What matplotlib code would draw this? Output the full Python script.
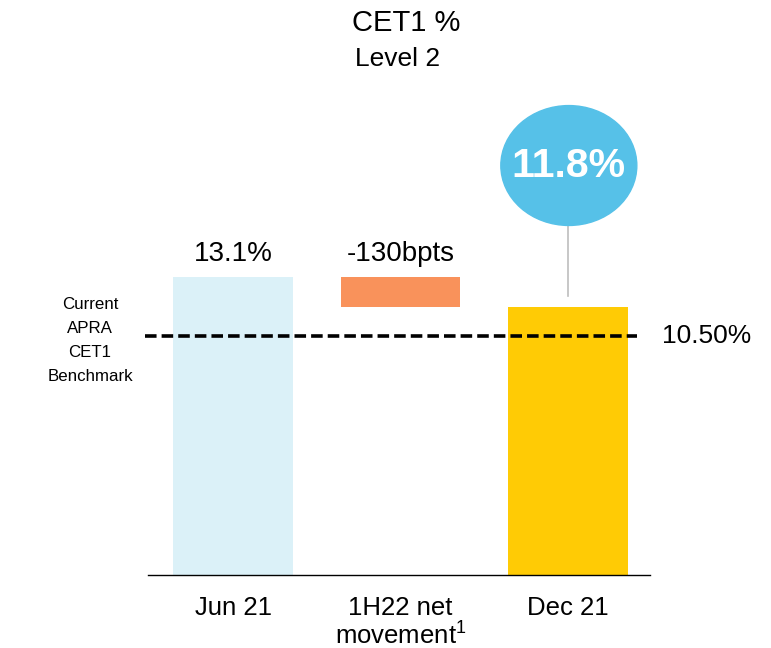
import matplotlib
matplotlib.use("Agg")
import matplotlib.pyplot as plt
from matplotlib.patches import Ellipse

plt.rcParams['font.family'] = ['Liberation Sans', 'DejaVu Sans']
plt.rcParams['mathtext.fontset'] = 'custom'
plt.rcParams['mathtext.rm'] = 'Liberation Sans'

# ---- data ----
categories = ["Jun 21", "1H22 net\nmovement$^{\\mathrm{1}}$", "Dec 21"]
jun_value = 13.1
movement_bps = -130
dec_value = 11.8
benchmark = 10.50
title = "CET1 %"
subtitle = "Level 2"
benchmark_label = "Current\nAPRA\nCET1\nBenchmark"

c_jun = "#DBF1F8"
c_move = "#F9925B"
c_dec = "#FFCB05"
c_bubble = "#56C1E8"

fig = plt.figure(figsize=(7.71, 6.48), dpi=100)
ax = fig.add_axes([148/771, 73/648, 502/771, 475/648])

x = [0, 1, 2]
w = 0.716
move = movement_bps / 100.0
ax.bar(x[0], jun_value, width=w, color=c_jun, zorder=1)
ax.bar(x[1], abs(move), bottom=jun_value + move, width=w, color=c_move, zorder=1)
ax.bar(x[2], dec_value, width=w, color=c_dec, zorder=1)

ax.set_xlim(-0.5075, 2.4896)
ax.set_ylim(0, 20.88)

# benchmark dashed line
ax.plot([-0.525, 2.412], [benchmark, benchmark], color="black", lw=2.6,
        linestyle=(0, (3.2, 1.4)), clip_on=False, zorder=3)
ax.text(2.56, benchmark, f"{benchmark:.2f}%", fontsize=19, ha="left", va="center")
ax.text(-0.854, benchmark - 0.2, benchmark_label, fontsize=12.2, ha="center", va="center",
        linespacing=1.75)

# labels
ax.text(x[0], jun_value + 1.0, f"{jun_value:.1f}%", fontsize=20, ha="center", va="center")
ax.text(x[1], jun_value + 1.0, f"{movement_bps}bpts", fontsize=20, ha="center", va="center")

# bubble
cy = 18.0
eh = 5.27
ax.plot([x[2], x[2]], [dec_value + 0.45, cy - eh/2], color="#BDBDBD", lw=1.2, zorder=2)
ax.add_patch(Ellipse((x[2] + 0.005, cy), width=0.812, height=eh, color=c_bubble,
                     zorder=4, clip_on=False))
ax.text(x[2] + 0.005, cy, f"{dec_value:.1f}%", fontsize=29.5, fontweight="bold",
        color="white", ha="center", va="center", zorder=5)

# axes styling
for s in ["left", "right", "top"]:
    ax.spines[s].set_visible(False)
ax.spines["bottom"].set_linewidth(1.0)
ax.set_yticks([])
ax.set_xticks(x)
ax.set_xticklabels(categories, fontsize=18.5, linespacing=1.05)
ax.tick_params(axis="x", length=0, pad=15)

fig.text(406/771, 1 - 23/648, title, fontsize=21, ha="center", va="center")
fig.text(398/771, 1 - 58.5/648, subtitle, fontsize=19, ha="center", va="center")

fig.savefig("out.png", dpi=100)
